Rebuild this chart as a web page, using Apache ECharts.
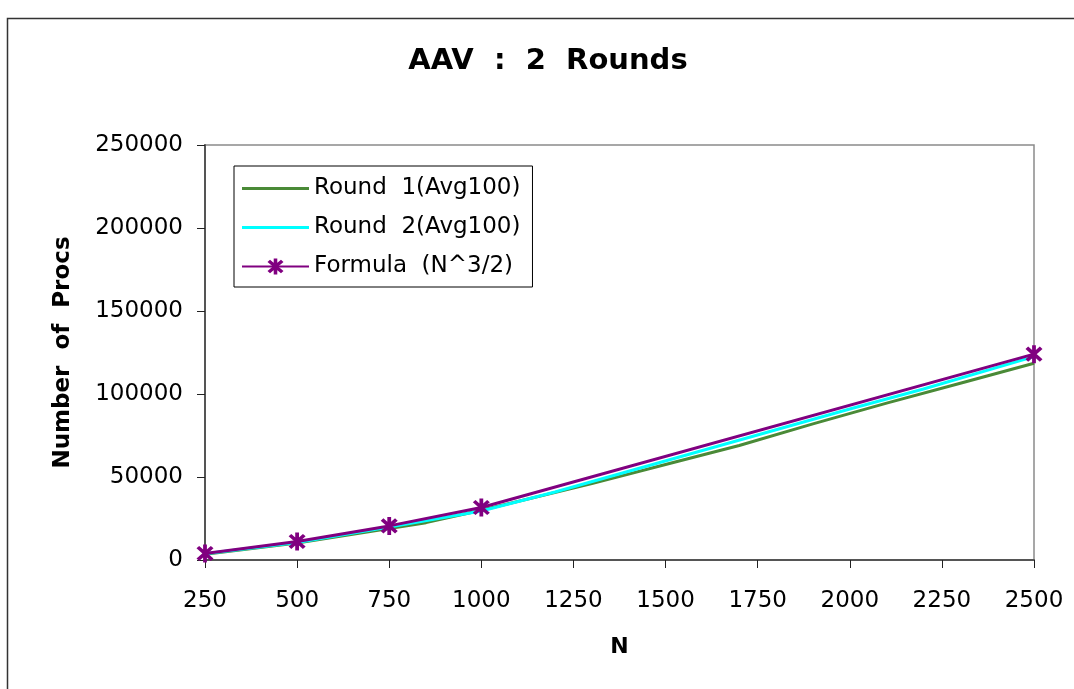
<!DOCTYPE html>
<html>
<head>
<meta charset="utf-8">
<script src="https://cdn.jsdelivr.net/npm/echarts@6/dist/echarts.min.js"></script>
<style>
  html, body { margin: 0; padding: 0; background: #fff; }
  #chart { width: 1074px; height: 689px; }
</style>
</head>
<body>
<div id="chart"></div>
<script>
// Problem size N for each measured run
const round1N = [250, 500, 750, 850, 1000, 1300, 1500, 1700, 1900, 2100, 2300, 2500];
const round1Procs = [3500, 10200, 19000, 22500, 30000, 46000, 57500, 69000, 82000, 94500, 106500, 118500];

const round2N = [250, 500, 750, 1000, 1200, 1400, 1600, 1800, 2000, 2200, 2500];
const round2Procs = [3700, 10600, 19800, 29500, 41000, 53500, 66000, 78500, 91000, 103000, 122500];

const formulaN = [250, 500, 750, 1000, 2500];
const formulaProcs = [3950, 11180, 20540, 31620, 124000];

const xTicks = { min: 250, max: 2500, step: 250 };
const yTicks = { min: 0, max: 250000, step: 50000 };

const seriesNames = ['Round  1(Avg100)', 'Round  2(Avg100)', 'Formula  (N^3/2)'];

const pair = (xs, ys) => xs.map((x, i) => [x, ys[i]]);

const FONT = 'DejaVu Sans';
// Filled asterisk: one vertical bar and two 45-degree bars, all with the same winding
const asterisk = 'path://' +
  'M-1.5,-8L-1.5,8L1.5,8L1.5,-8Z' +
  'M4.596,6.718L6.718,4.596L-4.596,-6.718L-6.718,-4.596Z' +
  'M6.718,-4.596L4.596,-6.718L-6.718,4.596L-4.596,6.718Z';
// Plain line swatch for the legend entries without markers
const lineIcon = 'path://M0,0L67,0L67,3L0,3Z';

const chart = echarts.init(document.getElementById('chart'), null, { renderer: 'canvas' });

chart.setOption({
  backgroundColor: '#fff',
  animation: false,
  title: {
    text: 'AAV  :  2  Rounds',
    left: 543,
    top: 42,
    textAlign: 'center',
    textStyle: { fontFamily: FONT, fontWeight: 'bold', fontSize: 29, color: '#000' }
  },
  graphic: [{
    type: 'rect',
    shape: { x: 7.5, y: 18.5, width: 1200, height: 800 },
    style: { fill: 'none', stroke: '#333', lineWidth: 1.5 },
    silent: true
  }],
  legend: {
    orient: 'vertical',
    left: 234,
    top: 166,
    width: 298,
    padding: [11, 12, 9, 7],
    itemWidth: 67,
    itemHeight: 20,
    itemGap: 16,
    borderColor: '#000',
    borderWidth: 1,
    backgroundColor: '#fff',
    textStyle: { fontFamily: FONT, fontSize: 23, color: '#000' },
    data: [
      { name: seriesNames[0], icon: lineIcon },
      { name: seriesNames[1], icon: lineIcon },
      { name: seriesNames[2] }
    ]
  },
  grid: {
    left: 205,
    right: 40,
    top: 145,
    bottom: 129,
    show: true,
    borderColor: '#8a8a8a',
    borderWidth: 1.5,
    backgroundColor: '#fff'
  },
  xAxis: {
    type: 'value',
    min: xTicks.min,
    max: xTicks.max,
    interval: xTicks.step,
    name: 'N',
    nameLocation: 'middle',
    nameGap: 76,
    nameTextStyle: { fontFamily: FONT, fontWeight: 'bold', fontSize: 22, color: '#000' },
    axisLine: { lineStyle: { color: '#555', width: 2 } },
    axisTick: { length: 8, lineStyle: { color: '#222', width: 1 } },
    axisLabel: { margin: 30, fontFamily: FONT, fontSize: 23, color: '#000', formatter: v => String(v) },
    splitLine: { show: false }
  },
  yAxis: {
    type: 'value',
    min: yTicks.min,
    max: yTicks.max,
    interval: yTicks.step,
    name: 'Number  of  Procs',
    nameLocation: 'middle',
    nameGap: 130,
    nameTextStyle: { fontFamily: FONT, fontWeight: 'bold', fontSize: 23, color: '#000' },
    axisLine: { show: true, lineStyle: { color: '#555', width: 2 } },
    axisTick: { show: true, length: 8, lineStyle: { color: '#222', width: 1 } },
    axisLabel: { margin: 22, fontFamily: FONT, fontSize: 23, color: '#000', formatter: v => String(v) },
    splitLine: { show: false }
  },
  series: [
    {
      name: seriesNames[0],
      type: 'line',
      data: pair(round1N, round1Procs),
      showSymbol: false,
      symbol: 'none',
      lineStyle: { color: '#4a8a37', width: 3 },
      itemStyle: { color: '#4a8a37' }
    },
    {
      name: seriesNames[1],
      type: 'line',
      data: pair(round2N, round2Procs),
      showSymbol: false,
      symbol: 'none',
      lineStyle: { color: '#00ffff', width: 3 },
      itemStyle: { color: '#00ffff' }
    },
    {
      name: seriesNames[2],
      type: 'line',
      data: pair(formulaN, formulaProcs),
      symbol: asterisk,
      symbolSize: [17, 18],
      lineStyle: { color: '#800080', width: 3 },
      itemStyle: { color: '#800080' }
    }
  ]
});
</script>
</body>
</html>
